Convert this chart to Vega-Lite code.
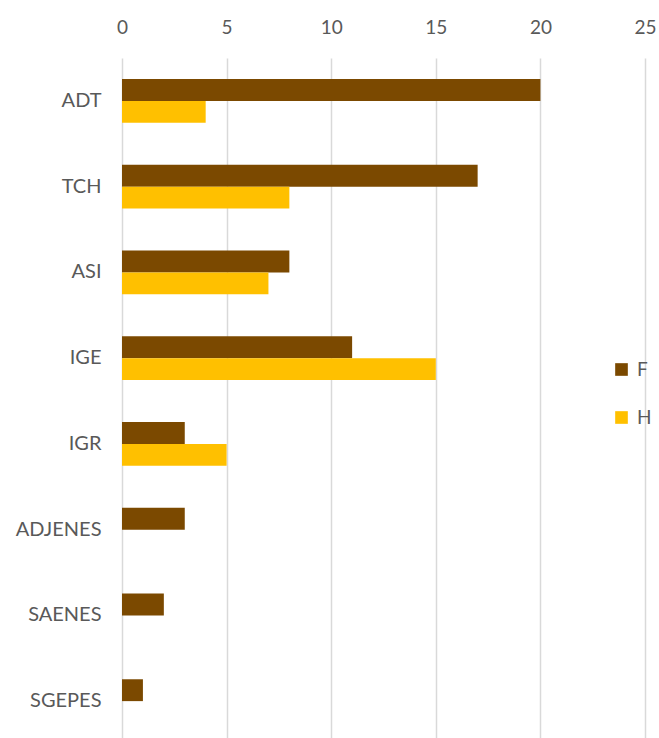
{
  "$schema": "https://vega.github.io/schema/vega-lite/v6.json",
  "autosize": {"type": "none"},
  "padding": {"left": 122, "top": 58, "right": 14, "bottom": 0},
  "width": 523,
  "height": 686,
  "background": "white",
  "config": {"view": {"stroke": null}, "font": "Lato"},
  "data": {"values": [
    {"cat": "ADT", "g": "F", "v": 20}, {"cat": "ADT", "g": "H", "v": 4},
    {"cat": "TCH", "g": "F", "v": 17}, {"cat": "TCH", "g": "H", "v": 8},
    {"cat": "ASI", "g": "F", "v": 8}, {"cat": "ASI", "g": "H", "v": 7},
    {"cat": "IGE", "g": "F", "v": 11}, {"cat": "IGE", "g": "H", "v": 15},
    {"cat": "IGR", "g": "F", "v": 3}, {"cat": "IGR", "g": "H", "v": 5},
    {"cat": "ADJENES", "g": "F", "v": 3}, {"cat": "ADJENES", "g": "H", "v": 0},
    {"cat": "SAENES", "g": "F", "v": 2}, {"cat": "SAENES", "g": "H", "v": 0},
    {"cat": "SGEPES", "g": "F", "v": 1}, {"cat": "SGEPES", "g": "H", "v": 0}
  ]},
  "mark": {"type": "bar"},
  "encoding": {
    "y": {"field": "cat", "type": "nominal", "sort": null, "title": null,
      "scale": {"paddingInner": 0.49, "paddingOuter": 0.245},
      "axis": {"domain": false, "ticks": false, "labelPadding": 21, "labelFontSize": 20, "labelColor": "#595959", "labelFont": "Lato"}},
    "yOffset": {"field": "g", "type": "nominal", "sort": ["F", "H"]},
    "x": {"field": "v", "type": "quantitative", "title": null,
      "scale": {"domain": [0, 25], "nice": false},
      "axis": {"orient": "top", "values": [0, 5, 10, 15, 20, 25], "domain": false, "ticks": false, "labelPadding": 21, "labelFontSize": 19, "labelColor": "#595959", "gridColor": "#d9d9d9", "gridWidth": 1.5, "labelFlush": false}},
    "color": {"field": "g", "type": "nominal", "title": null,
      "scale": {"domain": ["F", "H"], "range": ["#7B4900", "#FFC000"]},
      "legend": {"orient": "none", "legendX": 490, "legendY": 302, "symbolType": "square", "symbolSize": 160, "symbolStrokeWidth": 0, "labelFontSize": 19, "labelColor": "#595959", "rowPadding": 28, "labelOffset": 6}}
  }
}
